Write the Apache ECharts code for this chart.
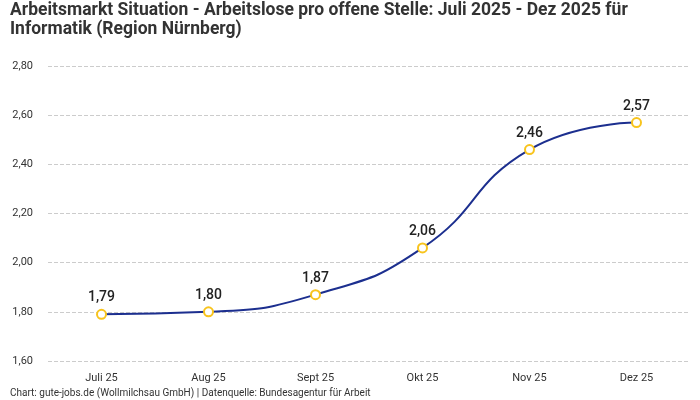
<!DOCTYPE html>
<html><head><meta charset="utf-8">
<script src="https://cdn.jsdelivr.net/npm/echarts@6/dist/echarts.min.js"></script>
<style>html,body{margin:0;padding:0;background:#fff}#c{width:700px;height:400px}</style>
</head><body><div id="c"></div>
<script>
const categories = ['Juli 25','Aug 25','Sept 25','Okt 25','Nov 25','Dez 25'];
const values = [1.79, 1.80, 1.87, 2.06, 2.46, 2.57];
const titleText = 'Arbeitsmarkt Situation - Arbeitslose pro offene Stelle: Juli 2025 - Dez 2025 für\nInformatik (Region Nürnberg)';
const footerText = 'Chart: gute-jobs.de (Wollmilchsau GmbH) | Datenquelle: Bundesagentur für Arbeit';
const fmt = v => v.toFixed(2).replace('.', ',');
const chart = echarts.init(document.getElementById('c'));
chart.setOption({
  animation: false,
  textStyle: {fontFamily: 'Roboto'},
  title: [{
    text: titleText, left: 10, top: 1, padding: 0,
    textStyle: {fontSize: 17.5, fontWeight: 'bold', color: '#333', lineHeight: 19, fontFamily: 'Roboto'}
  }, {
    text: footerText, left: 10, top: 387, padding: 0,
    textStyle: {fontSize: 10, fontWeight: 'normal', color: '#333', lineHeight: 12, fontFamily: 'Roboto'}
  }],
  grid: {left: 48, right: 10, top: 66, bottom: 39},
  xAxis: {
    type: 'category', data: categories, boundaryGap: true,
    axisLine: {show: false}, axisTick: {show: false},
    axisLabel: {color: '#333', fontSize: 11, margin: 12}
  },
  yAxis: {
    type: 'value', min: 1.6, max: 2.8, interval: 0.2,
    axisLabel: {color: '#333', fontSize: 11, margin: 15, formatter: v => fmt(v)},
    splitLine: {lineStyle: {type: 'dashed', color: '#ccc'}},
    axisLine: {show: false}, axisTick: {show: false}
  },
  series: [{
    type: 'line', data: values, smooth: true,
    symbol: 'circle', symbolSize: 9,
    lineStyle: {color: '#1c2f8f', width: 2},
    itemStyle: {color: '#fff', borderColor: '#f8c41d', borderWidth: 2},
    label: {show: true, position: 'top', distance: 4, formatter: p => fmt(p.value),
      fontSize: 14, fontWeight: 500, color: '#222'}
  }]
});
</script></body></html>
